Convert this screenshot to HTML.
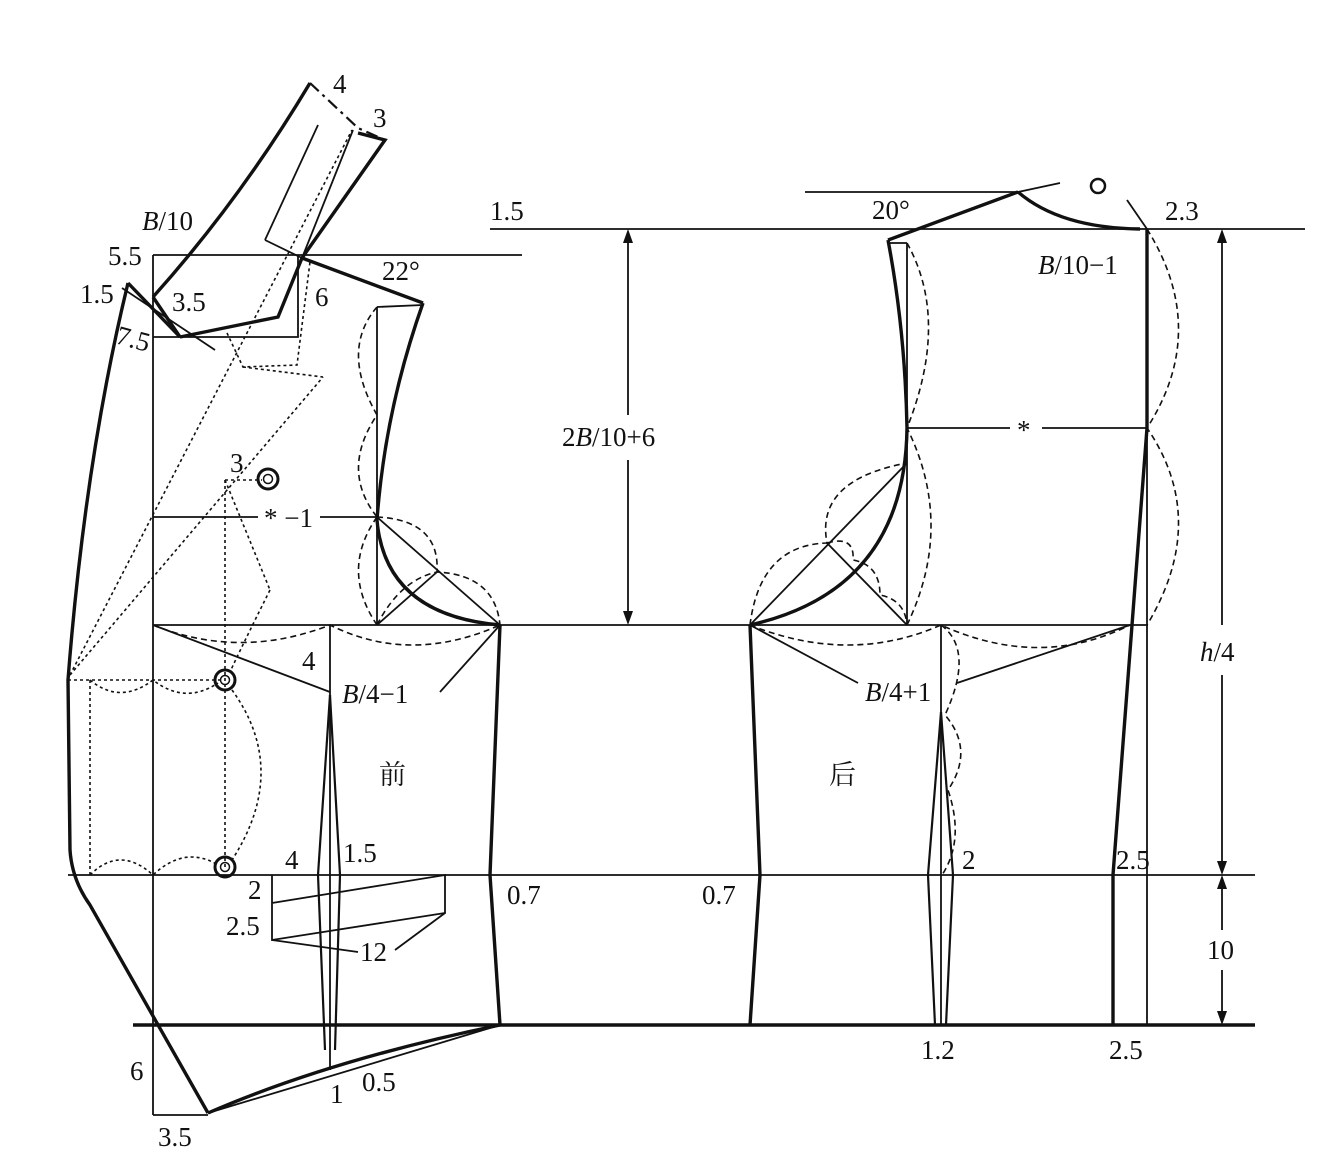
<!DOCTYPE html>
<html><head><meta charset="utf-8"><style>
html,body{margin:0;padding:0;background:#fff;}
svg{display:block;}
text{font-family:"Liberation Serif","Noto Serif CJK SC",serif;font-size:27px;fill:#111;}
.i{font-style:italic;}
</style></head><body>
<svg width="1333" height="1161" viewBox="0 0 1333 1161" xmlns="http://www.w3.org/2000/svg">
<g fill="none" stroke="#111" stroke-width="1.8">
<line x1="490" y1="229" x2="1305" y2="229"/>
<line x1="153" y1="255" x2="522" y2="255"/>
<line x1="153" y1="625" x2="1148" y2="625"/>
<line x1="68" y1="875" x2="1255" y2="875"/>
<line x1="153" y1="255" x2="153" y2="1115"/>
<line x1="153" y1="1115" x2="208" y2="1115"/>
<polyline points="153,337 298,337 298,255"/>
<line x1="377" y1="307" x2="377" y2="625"/>
<line x1="377" y1="307" x2="423" y2="305"/>
<line x1="153" y1="517" x2="258" y2="517"/>
<line x1="320" y1="517" x2="377" y2="517"/>
<line x1="377" y1="517" x2="500" y2="625"/>
<line x1="377" y1="625" x2="437" y2="572"/>
<line x1="330" y1="625" x2="330" y2="1070"/>
<line x1="153" y1="625" x2="330" y2="692"/>
<line x1="440" y1="692" x2="500" y2="625"/>
<line x1="318" y1="125" x2="265" y2="240"/>
<line x1="265" y1="240" x2="302" y2="258"/>
<line x1="122" y1="288" x2="215" y2="350"/>
<line x1="353" y1="130" x2="302" y2="258"/>
<polyline points="272,875 272,940 445,913 445,875 272,903"/>
<line x1="272" y1="940" x2="358" y2="952"/>
<line x1="445" y1="913" x2="395" y2="950"/>
<line x1="805" y1="192" x2="1018" y2="192"/>
<line x1="1018" y1="192" x2="1060" y2="183"/>
<line x1="1127" y1="200" x2="1147" y2="229"/>
<line x1="1147" y1="229" x2="1147" y2="1025"/>
<line x1="907" y1="243" x2="907" y2="625"/>
<line x1="888" y1="243" x2="907" y2="243"/>
<line x1="907" y1="428" x2="1010" y2="428"/>
<line x1="1042" y1="428" x2="1147" y2="428"/>
<line x1="750" y1="625" x2="907" y2="463"/>
<line x1="827" y1="543" x2="907" y2="625"/>
<line x1="941" y1="625" x2="941" y2="1025"/>
<line x1="750" y1="625" x2="858" y2="683"/>
<line x1="957" y1="683" x2="1130" y2="625"/>
<line x1="628" y1="235" x2="628" y2="415"/>
<line x1="628" y1="460" x2="628" y2="618"/>
<line x1="1222" y1="235" x2="1222" y2="625"/>
<line x1="1222" y1="675" x2="1222" y2="868"/>
<line x1="1222" y1="882" x2="1222" y2="930"/>
<line x1="1222" y1="970" x2="1222" y2="1018"/>
<path d="M208,1113 L500,1025"/>
</g>
<g fill="#111">
<polygon points="628,229 623,243 633,243"/>
<polygon points="628,625 623,611 633,611"/>
<polygon points="1222,229 1217,243 1227,243"/>
<polygon points="1222,875 1217,861 1227,861"/>
<polygon points="1222,875 1217,889 1227,889"/>
<polygon points="1222,1025 1217,1011 1227,1011"/>
</g>
<g fill="none" stroke="#111" stroke-width="3.4" stroke-linejoin="miter">
<line x1="133" y1="1025" x2="1255" y2="1025"/>
<path d="M128,283 Q85,460 68,680 L70,850 Q72,880 90,905 L208,1113"/>
<line x1="128" y1="283" x2="180" y2="337"/>
<line x1="153" y1="297" x2="180" y2="337"/>
<path d="M153,297 Q240,200 310,83"/>
<polyline points="358,133 385,140 302,258 278,317 180,337"/>
<polyline points="302,258 423,303"/>
<path d="M423,303 Q385,410 377,520 Q385,615 500,625"/>
<polyline points="500,625 490,875 500,1025"/>
<path d="M208,1113 Q330,1060 500,1025"/>
<line x1="888" y1="240" x2="1018" y2="192"/>
<path d="M1018,192 Q1060,228 1140,229"/>
<path d="M888,240 Q905,330 907,428 Q905,590 750,625"/>
<polyline points="750,625 760,875 750,1025"/>
<polyline points="1147,229 1147,428 1113,875 1113,1025"/>
</g>
<g fill="none" stroke="#111" stroke-width="2.2">
<polyline points="330,695 318,875 325,1050"/>
<polyline points="330,695 340,875 335,1050"/>
<polyline points="941,712 928,875 935,1025"/>
<polyline points="941,712 953,875 946,1025"/>
</g>
<path d="M310,83 L358,128 L385,140" fill="none" stroke="#111" stroke-width="2.2" stroke-dasharray="12,5,3,5"/>
<g fill="none" stroke="#111" stroke-width="1.6" stroke-dasharray="3,3">
<line x1="70" y1="675" x2="352" y2="130"/>
<line x1="70" y1="675" x2="323" y2="377"/>
<polyline points="227,333 243,367 297,365 310,262"/>
<line x1="243" y1="367" x2="323" y2="377"/>
<polyline points="225,480 225,867"/>
<line x1="225" y1="480" x2="262" y2="480"/>
<line x1="225" y1="480" x2="270" y2="590"/>
<line x1="90" y1="680" x2="90" y2="875"/>
<line x1="68" y1="680" x2="220" y2="680"/>
<path d="M90,680 Q120,705 153,680 Q185,705 218,683"/>
<path d="M90,875 Q120,845 153,875 Q185,845 218,865"/>
<path d="M232,690 Q290,770 232,860"/>
<path d="M270,590 Q240,650 230,672"/>
</g>
<g fill="none" stroke="#111" stroke-width="1.6" stroke-dasharray="6,4">
<path d="M377,307 Q340,350 377,415 Q340,470 377,517"/>
<path d="M377,517 Q340,570 377,625"/>
<path d="M377,517 Q440,520 437,572 Q495,575 500,625"/>
<path d="M377,625 Q400,580 437,572"/>
<path d="M153,625 Q240,660 330,625 Q410,665 500,625"/>
<path d="M907,243 Q950,320 907,428 Q955,525 907,625"/>
<path d="M1147,229 Q1210,330 1147,428 Q1210,520 1147,625"/>
<path d="M750,625 Q760,545 827,543 Q815,480 907,463"/>
<path d="M827,543 Q855,535 853,560 Q880,565 880,595 Q905,600 907,625"/>
<path d="M750,625 Q850,665 941,625 Q1040,670 1130,625"/>
<path d="M941,625 Q975,650 945,715 Q975,750 948,790 Q965,840 942,875"/>
</g>
<g fill="none" stroke="#111">
<circle cx="268" cy="479" r="10" stroke-width="3"/><circle cx="268" cy="479" r="4.5" stroke-width="1.5"/>
<circle cx="225" cy="680" r="10" stroke-width="3"/><circle cx="225" cy="680" r="4.5" stroke-width="1.5"/>
<circle cx="225" cy="867" r="10" stroke-width="3"/><circle cx="225" cy="867" r="4.5" stroke-width="1.5"/>
<circle cx="1098" cy="186" r="7" stroke-width="2.5"/>
</g>
<text x="333" y="93">4</text>
<text x="373" y="127">3</text>
<text x="142" y="230"><tspan class="i">B</tspan>/10</text>
<text x="108" y="265">5.5</text>
<text x="80" y="303">1.5</text>
<text x="172" y="311">3.5</text>
<text x="116" y="347" transform="rotate(15 130 340)">7.5</text>
<text x="315" y="306">6</text>
<text x="382" y="280">22°</text>
<text x="230" y="472">3</text>
<text x="264" y="527">* −1</text>
<text x="302" y="670">4</text>
<text x="342" y="703"><tspan class="i">B</tspan>/4−1</text>
<text x="379" y="784" font-family="Noto Serif CJK SC, serif">前</text>
<text x="285" y="869">4</text>
<text x="343" y="862">1.5</text>
<text x="248" y="899">2</text>
<text x="226" y="935">2.5</text>
<text x="360" y="961">12</text>
<text x="507" y="904">0.7</text>
<text x="130" y="1080">6</text>
<text x="330" y="1103">1</text>
<text x="362" y="1091">0.5</text>
<text x="158" y="1146">3.5</text>
<text x="490" y="220">1.5</text>
<text x="562" y="446">2<tspan class="i">B</tspan>/10+6</text>
<text x="872" y="219">20°</text>
<text x="1165" y="220">2.3</text>
<text x="1038" y="274"><tspan class="i">B</tspan>/10−1</text>
<text x="1017" y="439">*</text>
<text x="865" y="701"><tspan class="i">B</tspan>/4+1</text>
<text x="829" y="784" font-family="Noto Serif CJK SC, serif">后</text>
<text x="702" y="904">0.7</text>
<text x="962" y="869">2</text>
<text x="1116" y="869">2.5</text>
<text x="1200" y="661"><tspan class="i">h</tspan>/4</text>
<text x="1207" y="959">10</text>
<text x="921" y="1059">1.2</text>
<text x="1109" y="1059">2.5</text>
</svg>
</body></html>
